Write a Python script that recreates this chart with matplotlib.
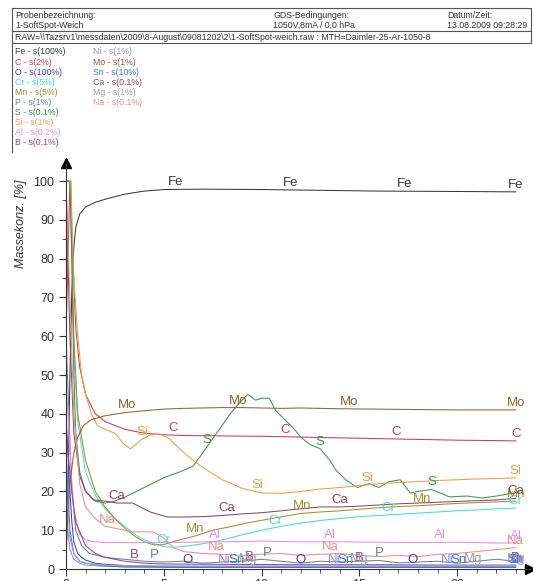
import numpy as np
import matplotlib
matplotlib.use("Agg")
from matplotlib import pyplot as plt

plt.rcParams['font.family'] = ['Liberation Sans', 'DejaVu Sans']

# depth profile [um] and mass concentration [%] per element
fe_x = [0, 0.1, 0.2, 0.3, 0.4, 0.5, 0.7, 1.0, 1.5, 2, 3, 4, 5, 7, 10, 13, 16, 20, 23]
fe_y = [0, 20, 50, 72, 83, 88, 91.5, 93.3, 94.5, 95.3, 96.6, 97.4, 97.8, 97.9, 97.8, 97.6, 97.4, 97.3, 97.2]

c_x = [0, 0.2, 0.35, 0.5, 0.7, 1.0, 1.5, 2, 2.5, 3, 4, 5, 6, 8, 10, 12, 14, 16, 18, 20, 22, 23]
c_y = [60, 100, 80, 62, 52, 45, 40, 38, 37, 36, 35, 34.6, 34.4, 34.3, 34.2, 34, 33.8, 33.6, 33.4, 33.2, 33.1, 33]

mo_x = [0, 0.2, 0.4, 0.6, 0.9, 1.3, 2, 3, 4, 5, 6, 7, 8, 9, 10, 11, 12, 14, 16, 18, 20, 22, 23]
mo_y = [5, 22, 30, 34, 37, 38.5, 39.5, 40.3, 40.8, 41.2, 41.4, 41.5, 41.6, 41.6, 41.5, 41.4, 41.5, 41.3, 41.2, 41.1, 41, 41, 41]

si_x = [0, 0.25, 0.4, 0.6, 0.8, 1.0, 1.3, 1.6, 2.0, 2.5, 3.0, 3.3, 3.9, 4.3, 4.8, 5.3, 5.8, 6.5, 7.2, 8,
        9, 10, 11, 12, 13, 14, 15, 16, 17, 18, 19, 20, 21, 22, 23]
si_y = [100, 100, 75, 60, 50, 45, 40, 37, 36, 35, 32, 31, 33.5, 34.5, 34.8, 33.5, 31, 28, 25.5, 23,
        20.8, 19.6, 19.5, 20, 20.6, 21, 21.5, 22, 22.3, 22.5, 22.8, 23, 23.2, 23.3, 23.5]

s_x = [0, 0.2, 0.3, 0.4, 0.5, 0.7, 1.0, 1.5, 2.0, 2.5, 3, 4, 5, 5.8, 6.5, 7, 7.7, 8.4, 8.9, 9.3, 9.7,
       10, 10.4, 10.7, 11.2, 11.6, 12, 12.5, 13, 13.5, 13.8, 14.3, 14.9, 15.5, 16, 16.5, 17.1, 17.6,
       18, 18.7, 19.6, 20.5, 21.3, 22, 22.9]
s_y = [100, 100, 80, 50, 35, 25, 20, 17.5, 17, 17.5, 18.5, 21, 23.5, 25, 26.5, 30, 35, 40, 43, 45, 43.5,
       44, 44, 41, 38.4, 36.5, 34, 32, 31, 28, 25.5, 23, 21, 22, 21, 22.5, 23, 19.6,
       20, 20.5, 18.6, 18.8, 18.3, 18.8, 19.6]

ca_x = [0, 0.2, 0.4, 0.7, 1.0, 1.4, 2, 2.6, 3.4, 4.3, 5.2, 6, 7, 8, 9, 10, 11, 12, 13, 14, 15, 16,
        17, 18, 19, 20, 21, 22, 23]
ca_y = [100, 60, 35, 24, 20, 17.8, 17.5, 17, 17, 14.7, 13.4, 13.4, 13.5, 13.8, 14.2, 14.5, 15, 15.5,
        16, 16, 16.2, 16.5, 16.8, 17, 17.2, 17.4, 17.6, 17.8, 18.2]

mn_x = [0, 0.2, 0.4, 0.6, 1, 1.5, 2, 2.5, 3, 3.5, 4, 4.5, 5, 5.8, 6.6, 7.5, 8.5, 9.3, 10.5, 12, 13,
        14, 15, 16, 17, 18, 19, 20, 21, 22, 23]
mn_y = [100, 100, 60, 40, 28, 20, 16, 13, 10.5, 8.5, 7, 6.2, 6.3, 7.5, 8.5, 10, 11, 11.9, 13, 14.3,
        14.7, 15, 15.4, 15.8, 16.1, 16.3, 16.6, 16.9, 17.1, 17.3, 17.5]

cr_x = [0, 0.25, 0.4, 0.6, 1, 1.5, 2, 2.5, 3, 3.5, 4, 4.5, 5, 5.5, 6, 7, 8, 9, 10, 11, 12, 13, 14,
        15, 16, 17, 18, 19, 20, 21, 22, 23]
cr_y = [100, 100, 55, 38, 25, 19, 15.5, 13, 11, 9, 7.5, 6.5, 5.8, 5.6, 5.8, 6.5, 7.5, 8.8, 10, 11,
        11.8, 12.5, 13, 13.5, 13.8, 14.1, 14.4, 14.7, 15, 15.2, 15.5, 15.7]

al_x = [0, 0.2, 0.4, 0.7, 1, 1.5, 2, 4, 6, 8, 10, 12, 14, 16, 18, 20, 22, 23]
al_y = [50, 30, 15, 9, 7.5, 7, 6.8, 6.8, 6.9, 7, 7.2, 7, 7, 6.9, 6.8, 6.9, 6.7, 6.7]

na_x = [0, 0.2, 0.4, 0.7, 1, 1.5, 2, 2.5, 3, 3.5, 4, 4.5, 5, 5.5, 6, 7, 8, 9, 10, 11, 12, 13, 14,
        15, 16, 17, 18, 19, 20, 21, 22, 23]
na_y = [100, 70, 40, 22, 16, 13, 11, 10.5, 10, 9.5, 9.6, 9.5, 8, 5.5, 4.5, 4, 3.8, 3.5, 3.8, 4, 3.5,
        3.8, 4, 3.5, 3.2, 3.5, 3.2, 3.8, 4, 4.5, 5, 5.5]

b_x = [0, 0.1, 0.3, 0.5, 1, 1.5, 2, 3, 4, 5, 8, 12, 16, 20, 23]
b_y = [40, 30, 20, 12, 6, 4, 3, 2, 1.5, 1.3, 1.2, 1.1, 1.1, 1.0, 1.0]

p_x = [0, 0.15, 0.3, 0.5, 0.8, 1.2, 2, 3, 4, 5, 6, 7, 8, 9, 10, 11, 12, 13, 14, 15, 16, 17, 18,
       19, 20, 21, 22, 23]
p_y = [60, 40, 20, 10, 6, 4, 3, 2.5, 2, 1.8, 2, 1.5, 1.8, 2, 2.5, 2, 1.5, 2, 1.8, 2, 2.2, 1.6, 1.8,
       2, 1.5, 2, 2.5, 2]

o_x = [0, 0.1, 0.2, 0.3, 0.4, 0.6, 0.8, 1, 1.5, 2, 3, 4, 6, 10, 15, 20, 23]
o_y = [36, 30, 20, 12, 7, 4, 3, 2.3, 1.5, 1.2, 0.9, 0.7, 0.5, 0.5, 0.5, 0.5, 0.5]

sn_x = [0, 0.1, 0.2, 0.4, 0.7, 1, 2, 3, 6, 10, 15, 20, 23]
sn_y = [30, 20, 10, 4, 2, 1.5, 0.8, 0.5, 0.4, 0.4, 0.4, 0.4, 0.4]

ni_x = [0, 0.1, 0.2, 0.4, 0.7, 1, 2, 3, 6, 10, 15, 20, 23]
ni_y = [15, 10, 5, 2.5, 1.5, 1, 0.7, 0.6, 0.6, 0.6, 0.6, 0.6, 0.6]

mg_x = [0, 0.1, 0.2, 0.4, 0.7, 1, 2, 3, 6, 10, 15, 20, 23]
mg_y = [20, 15, 8, 4, 2, 1.5, 1, 0.9, 0.8, 0.8, 0.8, 0.9, 0.9]

elements = ['Fe', 'C', 'O', 'Cr', 'Mn', 'P', 'S', 'Si', 'Al', 'B',
            'Ni', 'Mo', 'Sn', 'Ca', 'Mg', 'Na']
scales = ['100%', '2%', '100%', '5%', '5%', '1%', '0.1%', '1%', '0.2%', '0.1%',
          '1%', '1%', '10%', '0.1%', '1%', '0.1%']
colors = {'Fe': '#3a3a3a', 'C': '#c83c5a', 'O': '#4a3cc8', 'Cr': '#46dcd2',
          'Mn': '#a09030', 'P': '#5a8c8c', 'S': '#3c9650', 'Si': '#e6a046',
          'Al': '#e68ce6', 'B': '#a03ca0', 'Ni': '#8c8cf0', 'Mo': '#8c6432',
          'Sn': '#3c78dc', 'Ca': '#8c4664', 'Mg': '#a0a0a0', 'Na': '#f08c8c'}
curves = {'Fe': (fe_x, fe_y), 'C': (c_x, c_y), 'O': (o_x, o_y), 'Cr': (cr_x, cr_y),
          'Mn': (mn_x, mn_y), 'P': (p_x, p_y), 'S': (s_x, s_y), 'Si': (si_x, si_y),
          'Al': (al_x, al_y), 'B': (b_x, b_y), 'Ni': (ni_x, ni_y), 'Mo': (mo_x, mo_y),
          'Sn': (sn_x, sn_y), 'Ca': (ca_x, ca_y), 'Mg': (mg_x, mg_y), 'Na': (na_x, na_y)}
# where the element names sit along each curve
label_pos = {'Fe': [5.6, 11.5, 17.3, 23.0], 'C': [5.5, 11.2, 16.9, 23.0],
             'Mo': [3.1, 8.8, 14.5, 23.0], 'Si': [3.9, 9.8, 15.4, 23.0],
             'S': [7.2, 13.0, 18.7], 'Ca': [2.6, 8.2, 14.0, 23.0],
             'Mn': [6.6, 12.1, 18.2, 23.0], 'Cr': [5.0, 10.7, 16.5, 23.0],
             'Al': [7.6, 13.5, 19.1, 23.0], 'Na': [2.1, 7.7, 13.5, 23.0],
             'B': [3.5, 9.4, 15.0, 23.0], 'P': [4.5, 10.3, 16.0],
             'O': [6.2, 12.0, 17.7, 23.0], 'Ni': [8.1, 13.7, 19.5, 23.0],
             'Sn': [8.7, 14.3, 20.1, 23.0], 'Mg': [9.3, 15.0, 20.8, 23.0]}

W, H = 533, 581
fig = plt.figure(figsize=(W / 100, H / 100), dpi=100)

# header block
hdr = fig.add_axes([0, 0, 1, 1])
hdr.set_xlim(0, W)
hdr.set_ylim(H, 0)
hdr.axis('off')
hc = '#555555'
tc = '#333333'
hdr.plot([12, 531, 531, 12, 12], [8, 8, 43, 43, 8], color=hc, lw=0.8)
hdr.plot([12, 531], [31, 31], color=hc, lw=0.8)
hdr.plot([12, 12], [43, 152], color=hc, lw=0.8)
fs = 6.3
hdr.text(15, 15, 'Probenbezeichnung:', fontsize=fs, va='center', color=tc)
hdr.text(15, 25, '1-SoftSpot-Weich', fontsize=fs, va='center', color=tc)
hdr.text(273, 15, 'GDS-Bedingungen:', fontsize=fs, va='center', color=tc)
hdr.text(273, 25, '1050V,8mA / 0,0 hPa', fontsize=fs, va='center', color=tc)
hdr.text(447, 15, 'Datum/Zeit:', fontsize=fs, va='center', color=tc)
hdr.text(447, 25, '13.08.2009 09:28:29', fontsize=fs, va='center', color=tc)
hdr.text(15, 37, 'RAW=\\\\Tazsrv1\\messdaten\\2009\\8-August\\09081202\\2\\1-SoftSpot-weich.raw'
         ' : MTH=Daimler-25-Ar-1050-8', fontsize=fs, va='center', color=tc)
for i, (el, sc) in enumerate(zip(elements, scales)):
    col = 0 if i < 10 else 1
    row = i if i < 10 else i - 10
    hdr.text(15 + col * 78, 52 + row * 10.1, f'{el} - s({sc})', fontsize=fs,
             va='center', color=colors[el])

# profile plot
x0, x1 = 66, 530
y0, y1 = 569, 163
ax = fig.add_axes([x0 / W, (H - y0) / H, (x1 - x0) / W, (y0 - y1) / H])
xmax = 23.73
ymax = (y0 - y1) / 3.88
ax.set_xlim(0, xmax)
ax.set_ylim(0, ymax)

for el in elements:
    xs, ys = curves[el]
    ax.plot(xs, ys, color=colors[el], lw=0.75, clip_on=True)
    for lx in label_pos[el]:
        ly = np.interp(lx, xs, ys)
        ax.text(lx, ly + 1.8, el, color=colors[el], fontsize=9.5,
                ha='center', va='center')

for sp in ['top', 'right']:
    ax.spines[sp].set_visible(False)
ax.spines['left'].set_color('#333333')
ax.spines['bottom'].set_color('#333333')
ax.set_yticks(np.arange(0, 101, 10))
ax.set_yticks(np.arange(5, 100, 10), minor=True)
ax.set_xticks(np.arange(0, 21, 5))
ax.set_xticks(np.arange(0, 24, 1), minor=True)
ax.tick_params(axis='both', which='major', direction='out', length=5, labelsize=9,
               color='#333333', labelcolor='#333333')
ax.tick_params(axis='both', which='minor', direction='out', length=3, color='#333333')
ax.tick_params(axis='x', pad=2)
ax.set_ylabel('Massekonz. [%]', fontsize=9, style='italic', color='#333333')
ax.yaxis.set_label_coords(-0.085, 0.85)

# arrow heads at the axis ends
ax.plot([0], [ymax], marker='^', color='black', markersize=7, clip_on=False)
ax.plot([xmax], [0], marker='>', color='black', markersize=7, clip_on=False)

fig.savefig('out.png', dpi=100)
